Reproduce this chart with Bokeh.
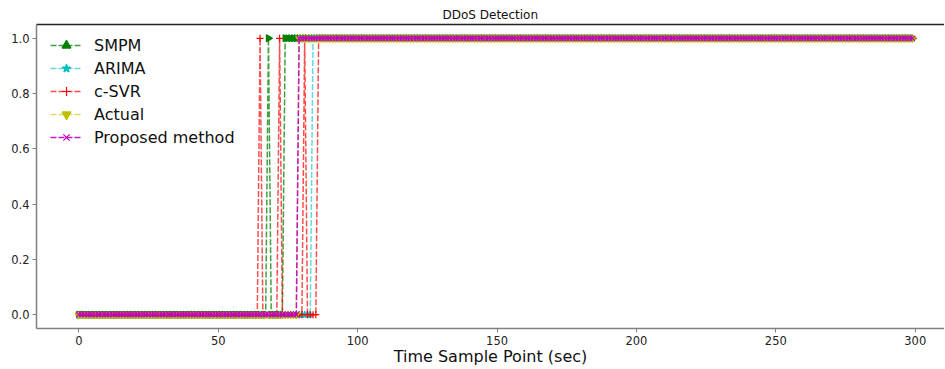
from bokeh.plotting import figure
from bokeh.models import (Range1d, FixedTicker, NumeralTickFormatter, Legend, LegendItem,
                          Title, LinearAxis)
from bokeh.embed import file_html
from bokeh.resources import INLINE
import math

# ---- data ----
time = list(range(300))
smpm = [0] * 68 + [1] + [0] * 5 + [1] * 226            # 1 at 68, 1 from 74
arima = [0] * 84 + [1] * 216                            # 1 from 84
csvr = [0] * 65 + [1] + [0] * 6 + [1] + [0] * 8 + [1] + [0] * 4 + [1] * 214  # spikes 65, 72, 81; 1 from 86
actual = [0] * 79 + [1] * 221                           # 1 from 79
proposed = [0] * 79 + [1] * 221                         # 1 from 79

x_ticks = [0, 50, 100, 150, 200, 250, 300]
y_ticks = [0.0, 0.2, 0.4, 0.6, 0.8, 1.0]

FONT = "DejaVu Sans"

p = figure(width=944, height=368, output_backend="svg", toolbar_location=None,
           x_range=Range1d(-15.2, 310.5), y_range=Range1d(-0.05, 1.05),
           min_border_left=36, min_border_right=0, min_border_top=24, min_border_bottom=0)
p.title = None

xa = p.below[0]
ya = p.left[0]
for ax in (xa, ya):
    ax.axis_line_color = "#808080"
    ax.axis_line_width = 1.5
    ax.major_tick_line_color = "#808080"
    ax.major_tick_out = 4
    ax.major_tick_in = 0
    ax.minor_tick_line_color = None
    ax.major_label_text_font = FONT
    ax.major_label_text_font_size = "11.5px"
    ax.major_label_text_color = "#222222"
    ax.major_label_standoff = 3

xa.ticker = FixedTicker(ticks=x_ticks)
ya.ticker = FixedTicker(ticks=y_ticks)
ya.formatter = NumeralTickFormatter(format="0.0")
xa.axis_label = "Time Sample Point (sec)"
xa.axis_label_text_font = FONT
xa.axis_label_text_font_size = "16px"
xa.axis_label_text_font_style = "normal"
xa.axis_label_text_color = "#111111"
xa.axis_label_standoff = -1

top_axis = LinearAxis(ticker=FixedTicker(ticks=[]), axis_line_color="#222222",
                      axis_line_width=1.3, major_tick_line_color=None,
                      minor_tick_line_color=None, major_label_text_font_size="0px",
                      major_tick_out=0, major_tick_in=0, major_label_standoff=0)
p.add_layout(top_axis, "above")
p.add_layout(Title(text="DDoS Detection", text_font=FONT, text_font_size="12px",
                   text_font_style="normal", text_color="#111111", align="left",
                   offset=406, standoff=5), "above")

p.xgrid.visible = False
p.ygrid.visible = False
p.outline_line_color = None
p.background_fill_color = "white"
p.border_fill_color = "white"

series = [
    ("SMPM", smpm, "#008000", "triangle", -math.pi / 2, "6 2", 0.75),
    ("ARIMA", arima, "#00bfbf", "star", 0, "6 2", 0.6),
    ("c-SVR", csvr, "#ff0000", "cross", 0, "6 2", 0.7),
    ("Actual", actual, "#bfbf00", "inverted_triangle", 0, "6 2", 0.6),
    ("Proposed method", proposed, "#bf00bf", "x", 0, "6 2", 0.9),
]

items = []
for name, ys, color, marker, ang, dash, alpha in series:
    r1 = p.line(time, ys, line_color=color, line_width=1.5, line_dash=dash, line_alpha=alpha)
    r2 = p.scatter(time, ys, marker=marker, angle=ang, size=7, fill_color=color,
                   line_color=color, line_width=1.2)
    items.append(LegendItem(label=name, renderers=[r1, r2]))

legend = Legend(items=items, location=(14, 180), border_line_color=None,
                background_fill_alpha=0, label_text_font=FONT, label_text_font_size="16px",
                label_text_color="#111111", glyph_width=32, glyph_height=22,
                spacing=1, padding=0, margin=0, label_standoff=12)
p.add_layout(legend, "center")

open("out.html", "w").write(file_html(p, INLINE))
